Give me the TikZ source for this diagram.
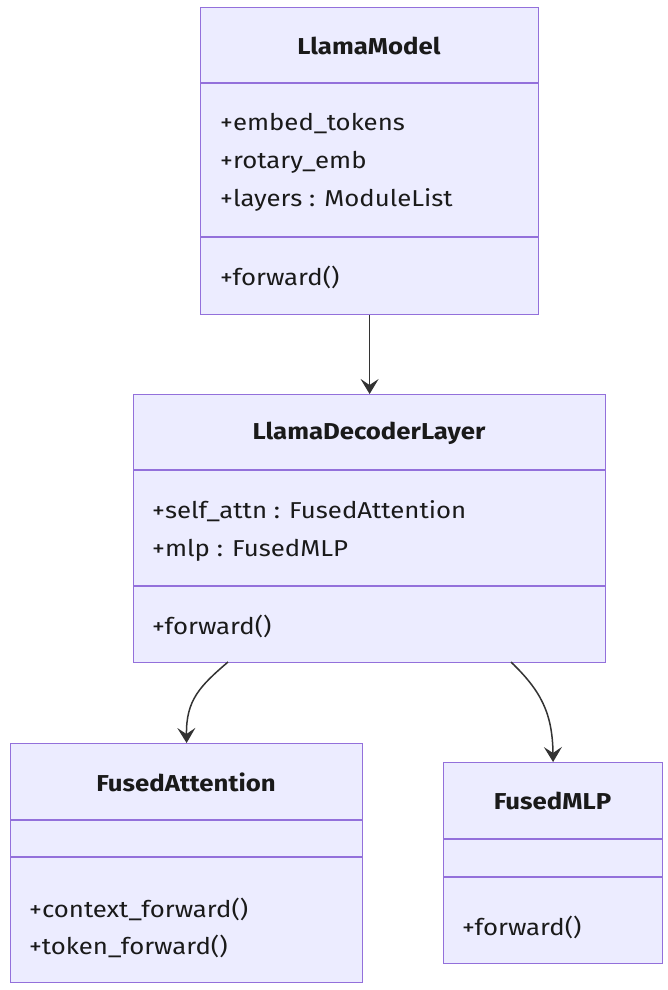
\documentclass[tikz,border=0pt]{standalone}
\usepackage{fontspec}
\setmainfont[FakeStretch=1.12]{Fira Sans}
\usetikzlibrary{arrows.meta}
\definecolor{boxfill}{HTML}{ECECFF}
\definecolor{boxline}{HTML}{9370DB}
\definecolor{txt}{HTML}{1A1A1A}
\definecolor{arr}{HTML}{333333}
\begin{document}
\begin{tikzpicture}[x=1pt,y=-1pt,
  cls/.style={draw=boxline, fill=boxfill, line width=1.2pt, inner sep=0pt, anchor=north west},
  divider/.style={draw=boxline, line width=1.2pt},
  ttl/.style={font=\fontsize{23}{26}\selectfont\bfseries, text=txt, inner sep=0pt, yshift=-1pt},
  attr/.style={font=\fontsize{23}{26}\selectfont, text=txt, inner sep=0pt, anchor=west, yshift=-2pt},
  conn/.style={draw=arr, line width=1.5pt, -{Stealth[length=15pt,width=18pt,inset=6pt]}}
]
\useasboundingbox (0,0) rectangle (668,990);
\fill[white] (0,0) rectangle (668,990);

% LlamaModel
\node[cls, minimum width=338pt, minimum height=307pt] (lm) at (200,7) {};
\draw[divider] (lm.west |- 0,83) -- (lm.east |- 0,83);
\draw[divider] (lm.west |- 0,237) -- (lm.east |- 0,237);
\node[ttl] (lmt) at (369,45) {LlamaModel};
\node[attr] (lma1) at (220,122) {+embed\_tokens};
\node[attr] (lma2) at (220,160) {+rotary\_emb};
\node[attr] (lma3) at (220,198) {+layers : ModuleList};
\node[attr] (lmm1) at (220,275) {+forward()};

% LlamaDecoderLayer
\node[cls, minimum width=472pt, minimum height=268pt] (dl) at (133,394) {};
\draw[divider] (dl.west |- 0,470) -- (dl.east |- 0,470);
\draw[divider] (dl.west |- 0,586) -- (dl.east |- 0,586);
\node[ttl] (dlt) at (369,432) {LlamaDecoderLayer};
\node[attr] (dla1) at (152,509) {+self\_attn : FusedAttention};
\node[attr] (dla2) at (152,548) {+mlp : FusedMLP};
\node[attr] (dlm1) at (152,624) {+forward()};

% FusedAttention
\node[cls, minimum width=352pt, minimum height=239pt] (fa) at (10,743) {};
\draw[divider] (fa.west |- 0,820) -- (fa.east |- 0,820);
\draw[divider] (fa.west |- 0,857) -- (fa.east |- 0,857);
\node[ttl] (fat) at (186,781) {FusedAttention};
\node[attr] (fam1) at (29,907) {+context\_forward()};
\node[attr] (fam2) at (29,944) {+token\_forward()};

% FusedMLP
\node[cls, minimum width=219pt, minimum height=201pt] (fm) at (443,762) {};
\draw[divider] (fm.west |- 0,839) -- (fm.east |- 0,839);
\draw[divider] (fm.west |- 0,877) -- (fm.east |- 0,877);
\node[ttl] (fmt) at (552.5,800) {FusedMLP};
\node[attr] (fmm1) at (462,925) {+forward()};

% connectors
\coordinate (s1) at (228,662);
\coordinate (s2) at (511,662);
\draw[conn] (lm.south) -- (dl.north);
\draw[conn] (s1) .. controls (200,686) and (186,700) .. (fa.north);
\draw[conn] (s2) .. controls (540,690) and (552.5,712) .. (fm.north);
\end{tikzpicture}
\end{document}
